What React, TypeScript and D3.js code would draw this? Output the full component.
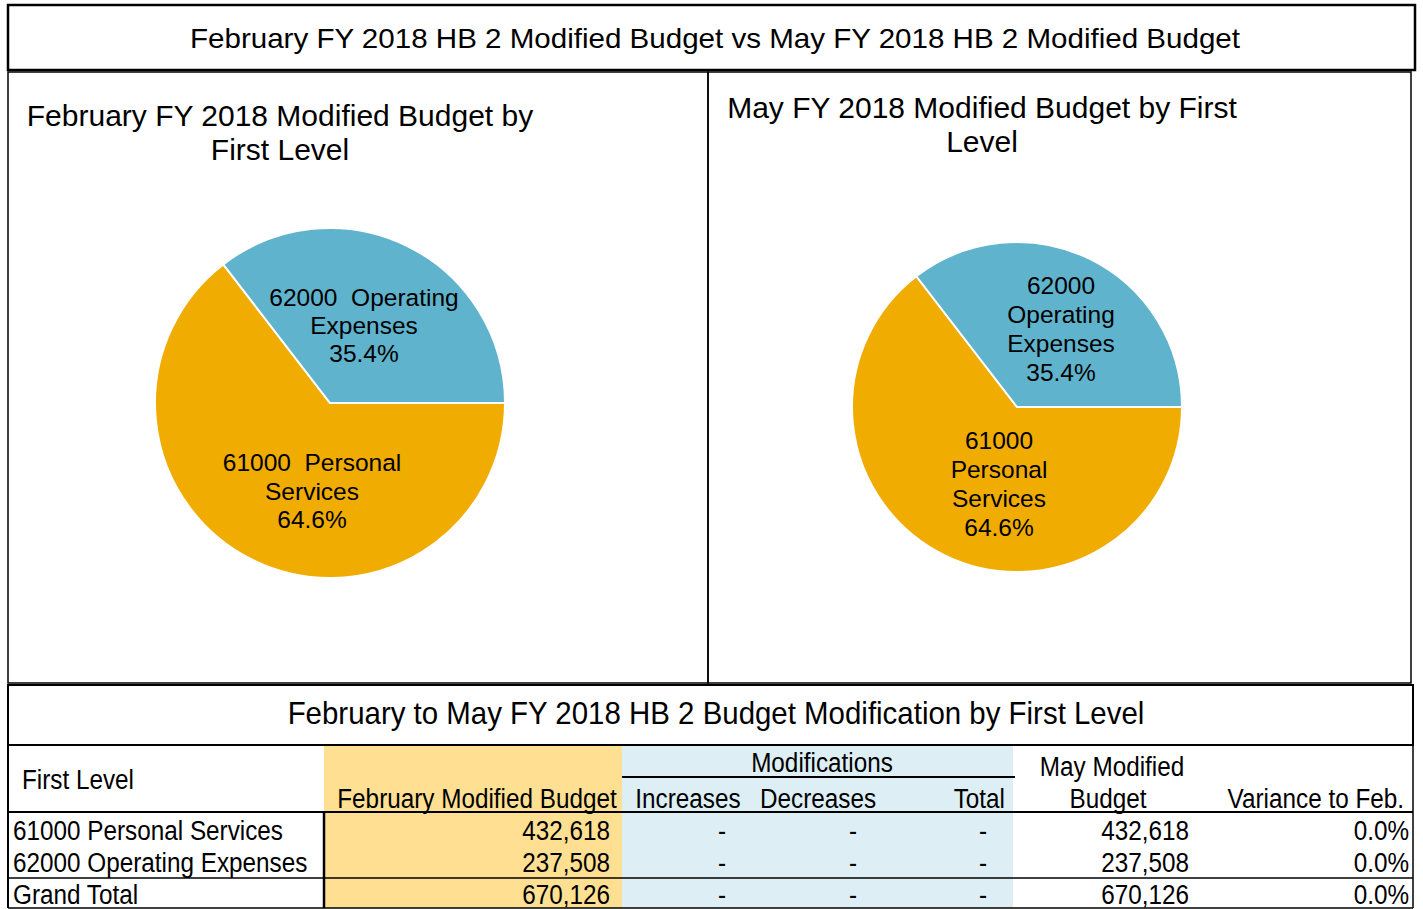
import React from 'react';
import * as d3 from 'd3';

// data
const categories = ['61000 Personal Services', '62000 Operating Expenses'];
const febBudget = [432618, 237508];
const mayBudget = [432618, 237508];
const increases = [0, 0];
const decreases = [0, 0];
const sliceColors = ['#F0AC00', '#5FB3CC'];

const FONT = 'Liberation Sans, Arial, sans-serif';

const fmt = d3.format(',');
const pct = d3.format('.1%');

type Label = { x: number; y: number; lines: string[]; lineH: number };
type PieProps = { cx: number; cy: number; r: number; values: number[]; labels: Label[] };

function Pie({ cx, cy, r, values, labels }: PieProps) {
  const pie = d3.pie<number>().sort(null).startAngle(Math.PI / 2).endAngle(Math.PI / 2 + 2 * Math.PI);
  const arcs = pie(values);
  const arc = d3.arc<d3.PieArcDatum<number>>().innerRadius(0).outerRadius(r);
  const total = d3.sum(values);
  return (
    <g transform={`translate(${cx},${cy})`}>
      {arcs.map((a, i) => (
        <path key={i} d={arc(a) || ''} fill={sliceColors[i]} stroke="#fff" strokeWidth={2} />
      ))}
      {arcs.map((a, i) => {
        const l = labels[i];
        const lines = [...l.lines, pct(values[i] / total)];
        return (
          <text key={'t' + i} fontFamily={FONT} fontSize={24.5} textAnchor="middle" fill="#000"
            style={{ whiteSpace: 'pre' }}>
            {lines.map((s, j) => (
              <tspan key={j} x={l.x} y={l.y + j * l.lineH}>{s}</tspan>
            ))}
          </text>
        );
      })}
    </g>
  );
}

// narrow table text (Arial Narrow look) drawn by squeezing Liberation Sans
function NT({ x, y, anchor = 'start', size = 27, children }:
  { x: number; y: number; anchor?: string; size?: number; children: React.ReactNode }) {
  return (
    <g transform={`translate(${x},${y}) scale(0.9,1)`}>
      <text x={0} y={0} textAnchor={anchor as any} fontFamily={FONT} fontSize={size} fill="#000">
        {children}
      </text>
    </g>
  );
}

export default function App() {
  const W = 1423, H = 909;
  const L = 8, R = 1413;
  const totFeb = d3.sum(febBudget);
  const totMay = d3.sum(mayBudget);
  const rows = categories.map((c, i) => ({
    name: c, feb: fmt(febBudget[i]), may: fmt(mayBudget[i]),
    inc: increases[i], dec: decreases[i], tot: increases[i] + decreases[i],
    varc: pct((mayBudget[i] - febBudget[i]) / febBudget[i]),
  }));
  rows.push({
    name: 'Grand Total', feb: fmt(totFeb), may: fmt(totMay),
    inc: 0, dec: 0, tot: 0, varc: pct((totMay - totFeb) / totFeb),
  });
  const rowY = [840, 872, 904];
  const dash = (v: number) => (v === 0 ? '-' : fmt(v));

  return (
    <svg width={W} height={H} style={{ position: 'absolute', left: 0, top: 0 }}>
      <rect x={0} y={0} width={W} height={H} fill="#fff" />
      {/* top title box */}
      <rect x={L} y={5} width={1407} height={65} fill="none" stroke="#000" strokeWidth={2.5} />
      <text x={715} y={48} textAnchor="middle" fontFamily={FONT} fontSize={28}
        textLength={1050} lengthAdjust="spacingAndGlyphs" fill="#000">
        February FY 2018 HB 2 Modified Budget vs May FY 2018 HB 2 Modified Budget
      </text>

      {/* pie panels */}
      <rect x={L} y={72} width={700} height={611} fill="none" stroke="#000" strokeWidth={1.5} />
      <rect x={708} y={72} width={703} height={611} fill="none" stroke="#000" strokeWidth={1.5} />

      <text fontFamily={FONT} fontSize={30} textAnchor="middle" fill="#000">
        <tspan x={280} y={126}>February FY 2018 Modified Budget by</tspan>
        <tspan x={280} y={160}>First Level</tspan>
      </text>
      <text fontFamily={FONT} fontSize={30} textAnchor="middle" fill="#000">
        <tspan x={982} y={118}>May FY 2018 Modified Budget by First</tspan>
        <tspan x={982} y={152}>Level</tspan>
      </text>

      <Pie cx={330} cy={403} r={175} values={febBudget}
        labels={[
          { x: -18, y: 68, lines: ['61000  Personal', 'Services'], lineH: 28.5 },
          { x: 34, y: -97, lines: ['62000  Operating', 'Expenses'], lineH: 28 },
        ]} />
      <Pie cx={1017} cy={407} r={165} values={mayBudget}
        labels={[
          { x: -18, y: 42, lines: ['61000', 'Personal', 'Services'], lineH: 29 },
          { x: 44, y: -113, lines: ['62000', 'Operating', 'Expenses'], lineH: 29 },
        ]} />

      {/* table */}
      <rect x={L} y={685} width={R - L} height={60} fill="none" stroke="#000" strokeWidth={2} />
      <g transform="translate(716,724) scale(0.95,1)">
        <text x={0} y={0} textAnchor="middle" fontFamily={FONT} fontSize={31} fill="#000">
          February to May FY 2018 HB 2 Budget Modification by First Level
        </text>
      </g>

      <rect x={324} y={746} width={298} height={162} fill="#FFE093" />
      <rect x={622} y={746} width={391} height={162} fill="#DDEFF4" />

      <NT x={22} y={789}>First Level</NT>
      <NT x={477} y={808} anchor="middle">February Modified Budget</NT>
      <NT x={822} y={772} anchor="middle">Modifications</NT>
      <NT x={688} y={808} anchor="middle">Increases</NT>
      <NT x={818} y={808} anchor="middle">Decreases</NT>
      <NT x={1005} y={808} anchor="end">Total</NT>
      <NT x={1112} y={776} anchor="middle">May Modified</NT>
      <NT x={1108} y={808} anchor="middle">Budget</NT>
      <NT x={1404} y={808} anchor="end">Variance to Feb.</NT>
      {rows.map((r, i) => (
        <g key={i}>
          <NT x={13} y={rowY[i]}>{r.name}</NT>
          <NT x={610} y={rowY[i]} anchor="end">{r.feb}</NT>
          <NT x={722} y={rowY[i]} anchor="middle">{dash(r.inc)}</NT>
          <NT x={853} y={rowY[i]} anchor="middle">{dash(r.dec)}</NT>
          <NT x={983} y={rowY[i]} anchor="middle">{dash(r.tot)}</NT>
          <NT x={1189} y={rowY[i]} anchor="end">{r.may}</NT>
          <NT x={1409} y={rowY[i]} anchor="end">{r.varc}</NT>
        </g>
      ))}

      <g stroke="#000" fill="none">
        <line x1={622} x2={1015} y1={777} y2={777} strokeWidth={2} />
        <line x1={L} x2={R} y1={812} y2={812} strokeWidth={2} />
        <line x1={L} x2={R} y1={878} y2={878} strokeWidth={1.5} />
        <line x1={324} x2={324} y1={812} y2={908} strokeWidth={2.5} />
        <line x1={L} x2={L} y1={745} y2={908} strokeWidth={2} />
        <line x1={R} x2={R} y1={745} y2={908} strokeWidth={1.5} />
        <line x1={L} x2={R} y1={908} y2={908} strokeWidth={1.5} />
      </g>
    </svg>
  );
}
